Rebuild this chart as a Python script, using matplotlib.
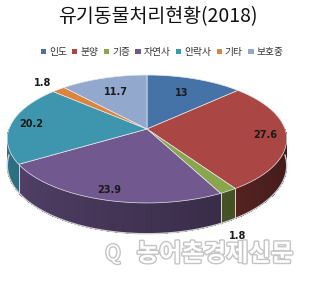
import numpy as np
import matplotlib
matplotlib.use("Agg")
import matplotlib.pyplot as plt
from matplotlib.patches import Polygon, Patch
import matplotlib.patheffects as pe
import matplotlib.colors as mcolors

plt.rcParams['font.family'] = ['Noto Sans CJK KR', 'DejaVu Sans']

# data
categories = ['인도', '분양', '기증', '자연사', '안락사', '기타', '보호중']
values = [13, 27.6, 1.8, 23.9, 20.2, 1.8, 11.7]
colors = ['#4572A7', '#AA4643', '#89A54E', '#71588F', '#3D96AE', '#DB843D', '#92A8CD']
title = '유기동물처리현황(2018)'

# layout of the tilted pie (pixel units, y down)
cx, cy = 147, 129
s, t, k = 138, 62.4, 0.156
h = 26
label_r = [0.7, 0.85, 1.1, 0.88, 0.85, 1.2, 0.7]


def proj(theta, r=1.0, depth=0.0):
    th = np.radians(theta)
    u = r * np.cos(th)
    v = r * np.sin(th)
    w = 1 + k * v
    return cx + s * u / w, cy + (-t * v + depth) / w


def shade(c, f):
    r, g, b = mcolors.to_rgb(c)
    return (r * f, g * f, b * f)


fig = plt.figure(figsize=(3.09, 2.82), dpi=100)
ax = fig.add_axes([0, 0, 1, 1])
ax.set_xlim(0, 309)
ax.set_ylim(282, 0)
ax.axis('off')

total = sum(values)
starts = []
ends = []
cum = 0
for v in values:
    starts.append(90 - 360 * cum / total)
    cum += v
    ends.append(90 - 360 * cum / total)

# watermark (behind the labels)
ax.text(215, 254, '농어촌경제신문', ha='center', va='center', fontsize=17.5,
        fontweight='bold', color='white', zorder=1,
        path_effects=[pe.withStroke(linewidth=2, foreground='#c4c4c4')])
ax.text(113, 254, 'Q', ha='center', va='center', fontsize=15, color='white',
        zorder=1, path_effects=[pe.withStroke(linewidth=2, foreground='#c4c4c4')])

# side walls
for i in range(len(values)):
    angs = np.linspace(ends[i], starts[i], 80)
    for a0, a1 in zip(angs[:-1], angs[1:]):
        mid = (a0 + a1) / 2
        if np.sin(np.radians(mid)) >= 0:
            continue
        m = mid % 360
        f = 0.8 - 0.45 * (m - 180) / 180
        p = [proj(a0), proj(a1), proj(a1, depth=h), proj(a0, depth=h)]
        ax.add_patch(Polygon(p, closed=True, facecolor=shade(colors[i], f),
                             edgecolor='none', lw=0, antialiased=False, zorder=2))
    # light line between walls
    for a in (starts[i], ends[i]):
        if np.sin(np.radians(a)) < 0:
            x0, y0 = proj(a)
            x1, y1 = proj(a, depth=h)
            ax.plot([x0, x1], [y0, y1], color='#d8d8d8', lw=0.6, zorder=3)

# outline of the bottom rim
rim = np.linspace(180, 360, 100)
bx, by = zip(*[proj(a, depth=h) for a in rim])
ax.plot(bx, by, color='#cfcfcf', lw=1.0, zorder=3)

# top surfaces
for i in range(len(values)):
    angs = np.linspace(starts[i], ends[i], 80)
    pts = [proj(0, r=0)] + [proj(a) for a in angs]
    ax.add_patch(Polygon(pts, closed=True, facecolor=colors[i],
                         edgecolor='#e8e8e8', lw=0.5, zorder=4))

# data labels
for i, v in enumerate(values):
    mid = (starts[i] + ends[i]) / 2
    x, y = proj(mid, r=label_r[i])
    if label_r[i] > 1 and np.sin(np.radians(mid)) < 0:
        x, y = proj(mid, r=label_r[i], depth=h)
        y += 7
    ax.text(x, y, f'{v:g}', ha='center', va='center', fontsize=7,
            fontweight='bold', color='#1a1a1a', family='DejaVu Sans', zorder=5)

fig.text(158 / 309, 1 - 17 / 282, title, ha='center', va='center',
         fontsize=14, color='#111111')

handles = [Patch(facecolor=c, edgecolor='none') for c in colors]
fig.legend(handles, categories, loc='center', bbox_to_anchor=(162 / 309, 1 - 52 / 282),
           ncol=7, frameon=False, fontsize=7, handlelength=0.55, handleheight=0.55,
           handletextpad=0.3, columnspacing=0.55, labelcolor='#333333')

fig.savefig('out.png', dpi=100)
